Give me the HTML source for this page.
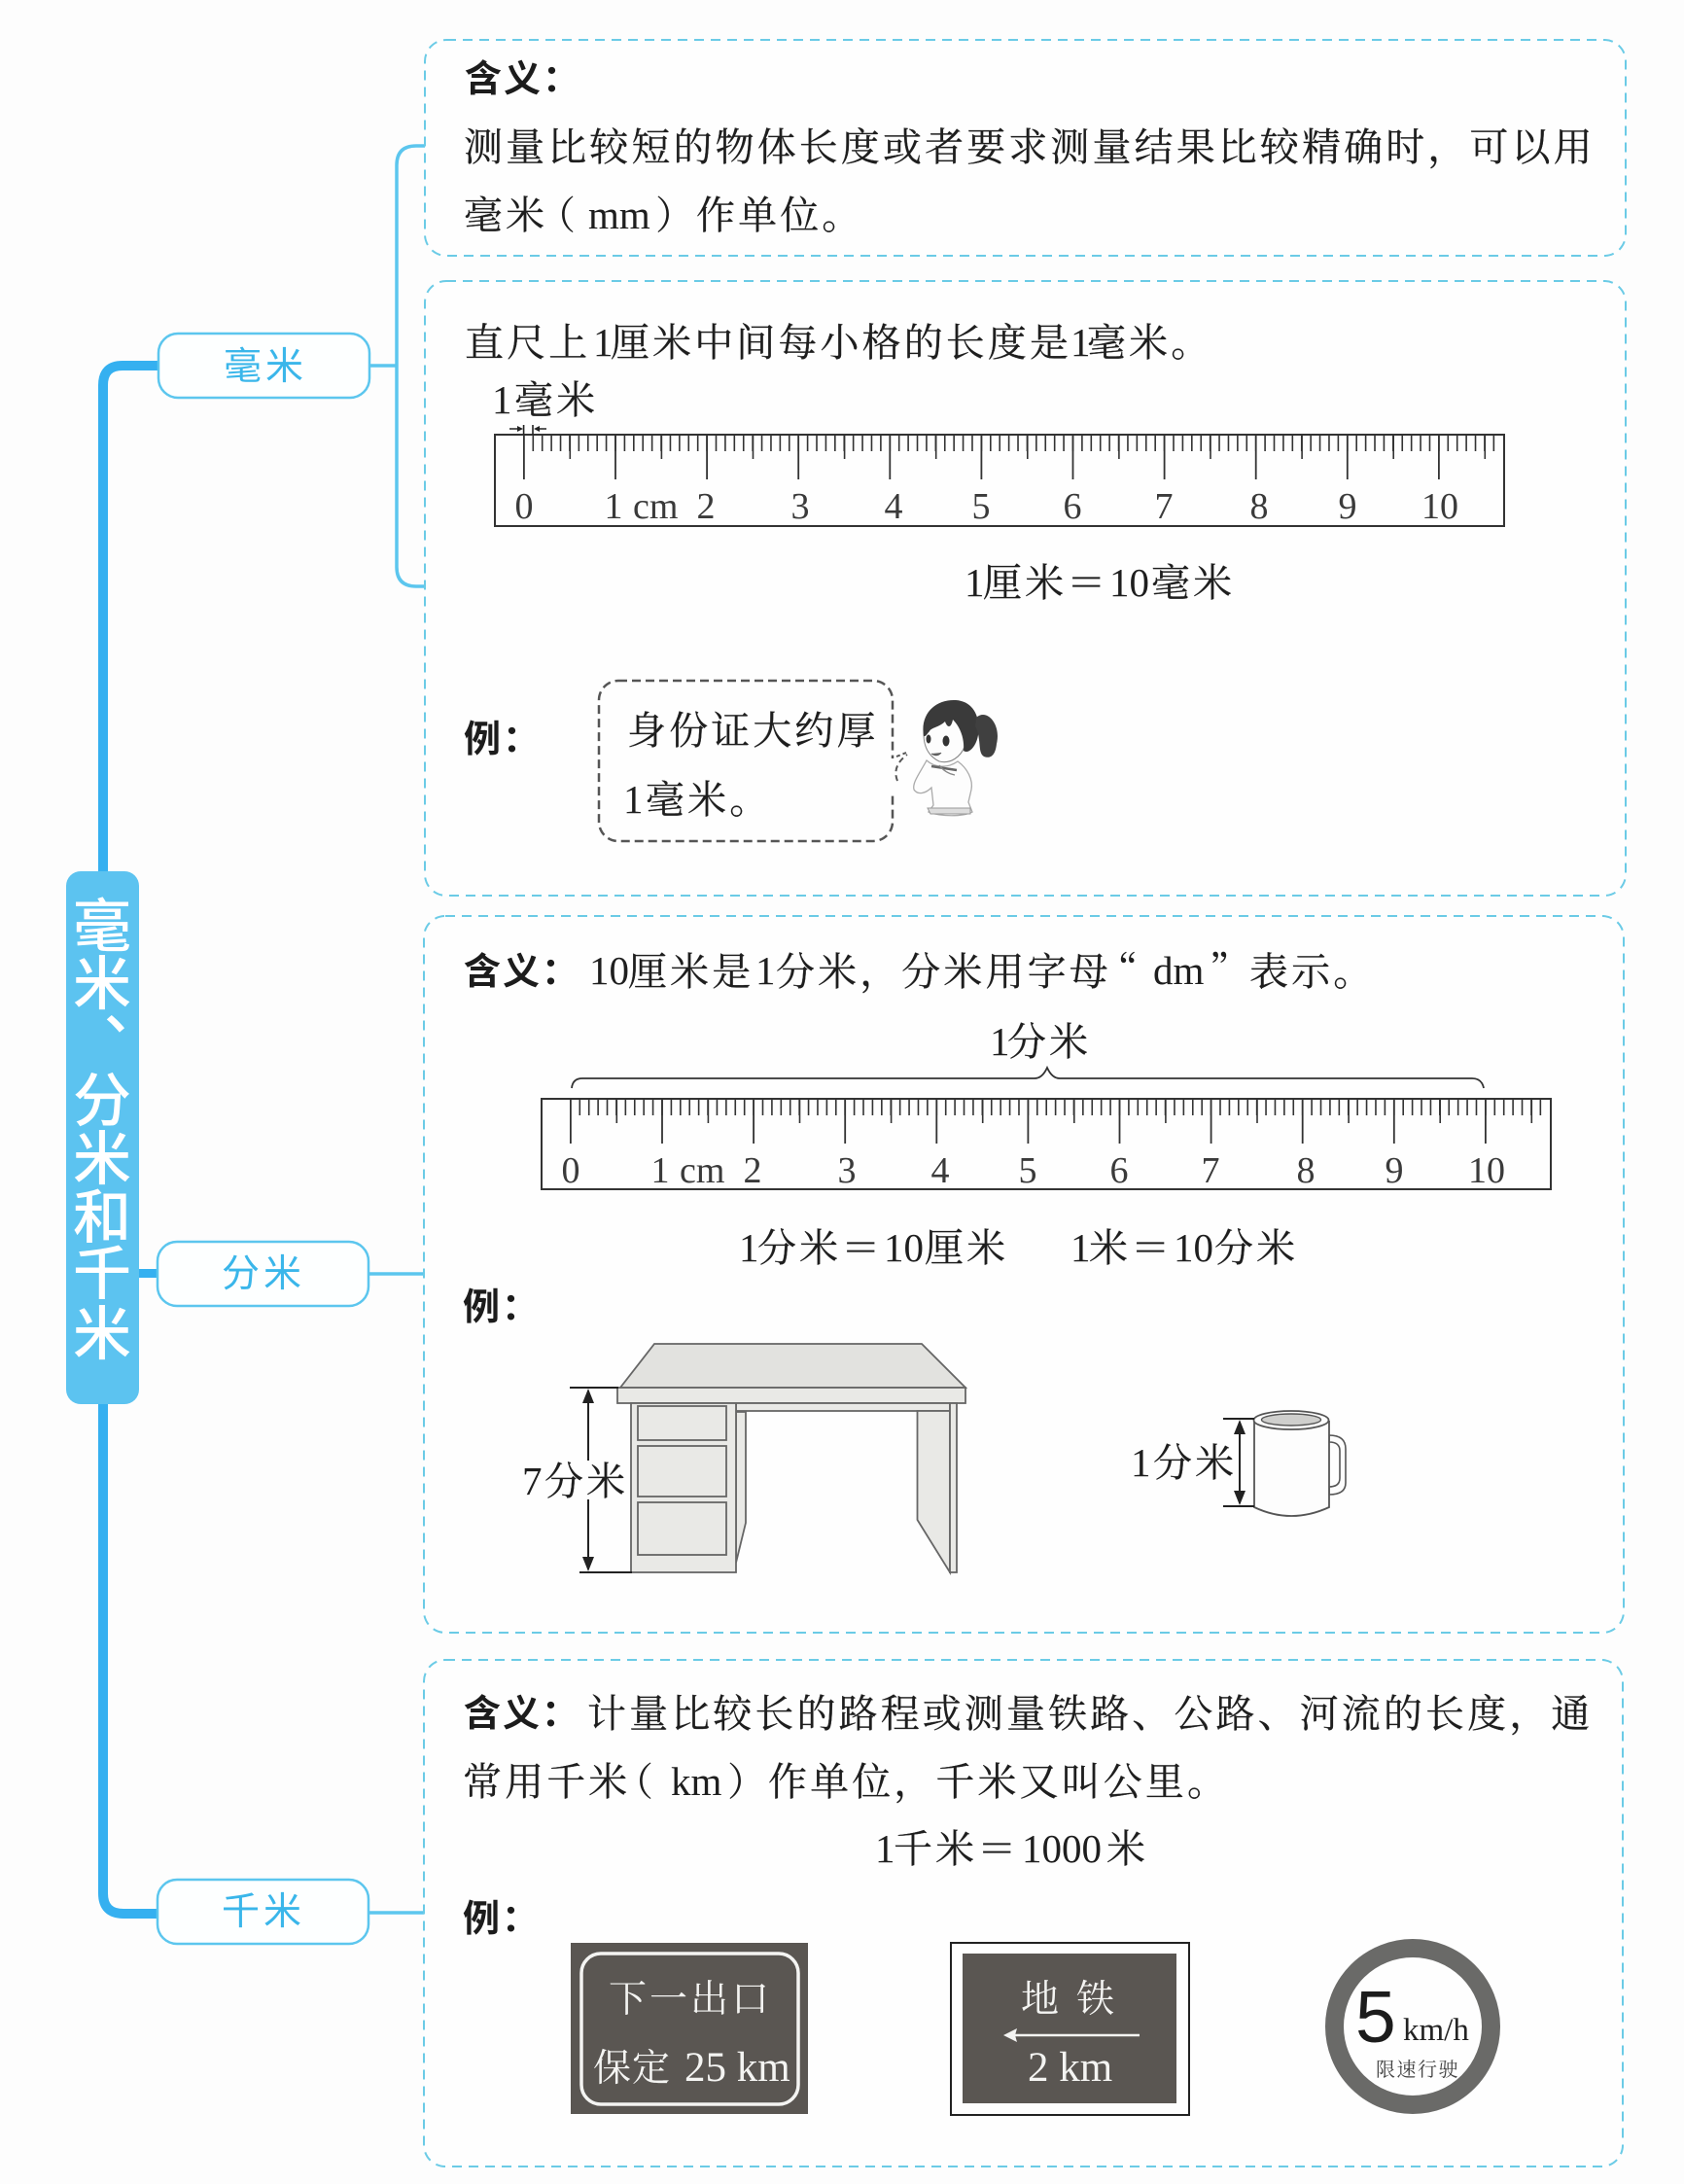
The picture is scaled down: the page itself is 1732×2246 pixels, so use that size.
<!DOCTYPE html>
<html lang="zh"><head><meta charset="utf-8"><title>毫米、分米和千米</title>
<style>
html,body{margin:0;padding:0;background:#fdfdfd}
svg{display:block}
text{white-space:pre}
.t{font-family:"Liberation Serif","Noto Serif CJK SC",serif;font-size:40px;letter-spacing:3.1px;fill:#1e1e1e;stroke:#1e1e1e;stroke-width:.25px}
.q{font-family:"Noto Serif CJK SC",serif;font-size:40px;fill:#1e1e1e}
.n{font-family:"Liberation Serif",serif;font-size:38px;fill:#3a3a3a;text-anchor:middle}
.l{font-family:"Liberation Serif",serif;font-size:41px;fill:#1e1e1e}
.b{font-family:"Noto Sans CJK SC","Liberation Sans",sans-serif;font-size:38px;font-weight:700;fill:#1c1c1c;letter-spacing:2px}
.m{font-family:"Noto Sans CJK SC","Liberation Sans",sans-serif;font-size:60px;font-weight:500;fill:#fff;text-anchor:middle}
.o{font-family:"Noto Sans CJK SC","Liberation Sans",sans-serif;font-size:39px;fill:#3ab6ea;letter-spacing:4px}
.w{font-family:"Liberation Serif","Noto Serif CJK SC",serif;font-size:39px;fill:#f4f4f2}
.wl{font-family:"Liberation Serif",serif;font-size:43px;fill:#f4f4f2}
.box{fill:#fefefe;stroke:#6bcbe6;stroke-width:2;stroke-dasharray:10 7}
.nd{fill:#fdffff;stroke:#5cc6ee;stroke-width:2.5}
.ln{fill:none;stroke:#5cc6ee;stroke-width:3.5}
.d{fill:#e9e9e6;stroke:#666;stroke-width:1.8}
.k{stroke:#222;stroke-width:2;fill:none}
</style></head>
<body>
<svg xmlns="http://www.w3.org/2000/svg" width="1732" height="2246" viewBox="0 0 1732 2246">
<rect width="1732" height="2246" fill="#fdfdfd"/>

<!-- spine -->
<path d="M106 900V396Q106 376 126 376H165" fill="none" stroke="#35b0f0" stroke-width="10"/>
<path d="M106 1440V1947Q106 1968 127 1968H165" fill="none" stroke="#35b0f0" stroke-width="10"/>
<rect x="140" y="1305" width="24" height="9" fill="#35b0f0"/>
<rect x="68" y="896" width="75" height="548" rx="15" fill="#5cc3f0"/>
<text class="m" x="105" y="974">毫</text>
<text class="m" x="105" y="1033">米</text>
<text class="m" x="137" y="1058">、</text>
<text class="m" x="105" y="1153">分</text>
<text class="m" x="105" y="1213">米</text>
<text class="m" x="105" y="1273">和</text>
<text class="m" x="105" y="1331">千</text>
<text class="m" x="105" y="1393">米</text>

<!-- connectors -->
<path class="ln" d="M437 150H428Q408 150 408 170V583Q408 603 428 603H437"/>
<path class="ln" d="M380 376H408M379 1310H436M380 1967H436"/>

<!-- nodes -->
<rect class="nd" x="163" y="343" width="217" height="66" rx="20"/>
<rect class="nd" x="162" y="1277" width="217" height="66" rx="20"/>
<rect class="nd" x="162" y="1933" width="217" height="66" rx="20"/>
<text class="o" x="230" y="390">毫米</text>
<text class="o" x="228" y="1323">分米</text>
<text class="o" x="228" y="1979">千米</text>

<!-- boxes -->
<rect class="box" x="437" y="41" width="1235" height="222" rx="22"/>
<rect class="box" x="437" y="289" width="1235" height="632" rx="22"/>
<rect class="box" x="436" y="942" width="1234" height="737" rx="22"/>
<rect class="box" x="436" y="1707" width="1233" height="521" rx="22"/>

<!-- box 1 -->
<text class="b" x="478" y="94">含义：</text>
<text class="t" x="477" y="165">测量比较短的物体长度或者要求测量结果比较精确时，可以用</text>
<text class="t" x="477" y="235">毫米</text>
<text class="q" x="552" y="235">（</text>
<text class="l" x="605" y="235">mm</text>
<text class="q" x="674" y="235">）</text>
<text class="t" x="716" y="235">作单位。</text>

<!-- box 2 -->
<text class="t" x="478" y="366">直尺上</text>
<text class="l" x="610" y="366">1</text>
<text class="t" x="628" y="366">厘米中间每小格的长度是</text>
<text class="l" x="1101" y="366">1</text>
<text class="t" x="1118" y="366">毫米。</text>
<text class="l" x="506" y="425">1</text>
<text class="t" x="529" y="425">毫米</text>

<!-- ruler 1 -->
<rect x="509" y="447" width="1038" height="94" fill="none" stroke="#333" stroke-width="2"/>
<line x1="547.5" y1="455.500" x2="1540" y2="455.500" stroke="#333" stroke-width="17" stroke-dasharray="1.600 7.810"/>
<line x1="585.5" y1="459.500" x2="1540" y2="459.500" stroke="#333" stroke-width="25" stroke-dasharray="1.600 92.500"/>
<line x1="538" y1="470" x2="1490" y2="470" stroke="#333" stroke-width="46" stroke-dasharray="1.800 92.300"/>
<path d="M538.600 437V447M548 437V447M524 441H536M562 441H551" stroke="#222" stroke-width="1.600" fill="none"/>
<path d="M538 441l-6-3v6zM549 441l6-3v6z" fill="#222"/>
<text class="n" x="539" y="533">0</text>
<text class="n" x="631" y="533">1</text>
<text class="n" x="651" y="533" style="text-anchor:start">cm</text>
<text class="n" x="726" y="533">2</text>
<text class="n" x="823" y="533">3</text>
<text class="n" x="919" y="533">4</text>
<text class="n" x="1009" y="533">5</text>
<text class="n" x="1103" y="533">6</text>
<text class="n" x="1197" y="533">7</text>
<text class="n" x="1295" y="533">8</text>
<text class="n" x="1386" y="533">9</text>
<text class="n" x="1481" y="533">10</text>

<text class="l" x="992" y="613">1</text>
<text class="t" x="1011" y="613">厘米＝</text>
<text class="l" x="1141" y="613">10</text>
<text class="t" x="1184" y="613">毫米</text>

<text class="b" x="477" y="773">例：</text>
<rect x="616" y="700" width="302" height="165" rx="20" fill="none" stroke="#555" stroke-width="2.500" stroke-dasharray="9 5"/>
<rect x="914" y="780" width="8" height="34" fill="#fefefe"/>
<path d="M923 803Q917 788 933 776" fill="none" stroke="#555" stroke-width="2" stroke-dasharray="6 4"/>
<path d="M922 778l10-4" stroke="#555" stroke-width="2" stroke-dasharray="4 3"/>
<text class="t" x="645" y="765">身份证大约厚</text>
<text class="l" x="641" y="836">1</text>
<text class="t" x="664" y="836">毫米。</text>

<!-- girl -->
<g>
<path d="M953 782C946 795 938 805 940 812C944 818 952 816 958 810L960 828L955 835C968 840 990 840 1000 835L996 825L999 812C1001 802 995 790 985 783C975 790 962 790 953 782Z" fill="#fdfdfd" stroke="#aaa" stroke-width="1.300"/>
<path d="M954 831L998 831V837L957 837Z" fill="#ddd" stroke="#999" stroke-width="1"/>
<path d="M951 745C948 762 952 776 966 783C978 786 988 778 992 768C994 752 985 738 970 733Z" fill="#fdfdfd" stroke="#888" stroke-width="1.100"/>
<path d="M950 757C946 733 963 719 983 720C1000 721 1009 736 1006 756C1004 768 996 776 991 772C992 760 988 748 980 740C978 750 974 748 972 742C966 748 958 748 956 752C954 754 952 758 950 757Z" fill="#3a3a3a"/>
<path d="M1004 738C1015 728 1030 745 1025 765C1024 775 1020 781 1012 778C1005 774 1010 760 1003 747Z" fill="#404040"/>
<ellipse cx="955" cy="760" rx="2.500" ry="4.500" fill="#333"/>
<ellipse cx="973" cy="762" rx="3.500" ry="5.500" fill="#333"/>
<path d="M958 775q6 4 10-1" fill="#666" stroke="#555"/>
<path d="M958 788l26 4" stroke="#666" stroke-width="2.500"/>
<path d="M966 787q6 8 16 10" fill="none" stroke="#888" stroke-width="1.400"/>
</g>

<!-- box 3 -->
<text class="b" x="477" y="1012">含义：</text>
<text class="l" x="606" y="1012">10</text>
<text class="t" x="646" y="1013">厘米是</text>
<text class="l" x="777" y="1012">1</text>
<text class="t" x="798" y="1013">分米，分米用字母</text>
<text class="q" x="1130" y="1013">“</text>
<text class="l" x="1186" y="1012">dm</text>
<text class="q" x="1244" y="1013">”</text>
<text class="t" x="1285" y="1013">表示。</text>

<text class="l" x="1018" y="1085">1</text>
<text class="t" x="1036" y="1085">分米</text>
<path d="M588 1119Q589 1109 599 1109H1064Q1072 1109 1077 1098Q1082 1109 1090 1109H1514Q1524 1109 1526 1119" fill="none" stroke="#333" stroke-width="1.800"/>

<!-- ruler 2 -->
<rect x="557" y="1130" width="1038" height="93" fill="none" stroke="#333" stroke-width="2"/>
<line x1="595.500" y1="1138.500" x2="1588" y2="1138.500" stroke="#333" stroke-width="17" stroke-dasharray="1.600 7.810"/>
<line x1="633.500" y1="1142.500" x2="1588" y2="1142.500" stroke="#333" stroke-width="25" stroke-dasharray="1.600 92.500"/>
<line x1="586" y1="1153" x2="1538" y2="1153" stroke="#333" stroke-width="46" stroke-dasharray="1.800 92.300"/>
<text class="n" x="587" y="1216">0</text>
<text class="n" x="679" y="1216">1</text>
<text class="n" x="699" y="1216" style="text-anchor:start">cm</text>
<text class="n" x="774" y="1216">2</text>
<text class="n" x="871" y="1216">3</text>
<text class="n" x="967" y="1216">4</text>
<text class="n" x="1057" y="1216">5</text>
<text class="n" x="1151" y="1216">6</text>
<text class="n" x="1245" y="1216">7</text>
<text class="n" x="1343" y="1216">8</text>
<text class="n" x="1434" y="1216">9</text>
<text class="n" x="1529" y="1216">10</text>

<text class="l" x="760" y="1297">1</text>
<text class="t" x="779" y="1297">分米＝</text>
<text class="l" x="909" y="1297">10</text>
<text class="t" x="951" y="1297">厘米</text>
<text class="l" x="1101" y="1297">1</text>
<text class="t" x="1120" y="1297">米＝</text>
<text class="l" x="1207" y="1297">10</text>
<text class="t" x="1249" y="1297">分米</text>
<text class="b" x="476" y="1357">例：</text>

<!-- desk -->
<path class="d" d="M673 1382H948L993 1427H638Z" style="fill:#e2e2df"/>
<rect class="d" x="635" y="1427" width="358" height="16"/>
<rect class="d" x="757" y="1443" width="220" height="8"/>
<path class="d" d="M757 1452H767V1566L757 1607Z"/>
<rect class="d" x="649" y="1443" width="108" height="174"/>
<rect class="d" x="656" y="1446" width="91" height="35"/>
<rect class="d" x="656" y="1487" width="91" height="52"/>
<rect class="d" x="656" y="1545" width="91" height="54"/>
<path class="d" d="M943.500 1451H977V1617L943.500 1563Z"/>
<rect class="d" x="977" y="1443" width="7" height="174"/>
<path class="k" d="M586 1427H636M596 1617H650M605 1430V1502M605 1542V1614"/>
<path d="M605 1428l-6 15h12zM605 1616l-6-15h12z" fill="#222"/>
<text class="l" x="537" y="1537">7</text>
<text class="t" x="560" y="1537">分米</text>

<!-- mug -->
<path d="M1367 1476Q1384 1476 1384 1490V1525Q1384 1537 1367 1537V1529Q1378 1529 1378 1520V1492Q1378 1483 1367 1483Z" fill="#fdfdfd" stroke="#555" stroke-width="1.600"/>
<path d="M1290 1461V1550Q1328 1568 1367 1550V1461" fill="#fdfdfd" stroke="#555" stroke-width="1.800"/>
<ellipse cx="1328" cy="1460.500" rx="38.500" ry="9.500" fill="#fdfdfd" stroke="#555" stroke-width="1.800"/>
<ellipse cx="1328" cy="1460" rx="30.500" ry="6" fill="#cfcfcd" stroke="#555" stroke-width="1.400"/>
<path class="k" d="M1258 1459H1290M1258 1549H1290M1275 1462V1546"/>
<path d="M1275 1460l-6 15h12zM1275 1548l-6-15h12z" fill="#222"/>
<text class="l" x="1163" y="1518">1</text>
<text class="t" x="1186" y="1518">分米</text>

<!-- box 4 -->
<text class="b" x="477" y="1775">含义：</text>
<text class="t" x="604" y="1776">计量比较长的路程或测量铁路、公路、河流的长度，通</text>
<text class="t" x="476" y="1846">常用千米</text>
<text class="q" x="632" y="1846">（</text>
<text class="l" x="690" y="1846">km</text>
<text class="q" x="748" y="1846">）</text>
<text class="t" x="790" y="1846">作单位，千米又叫公里。</text>
<text class="l" x="900" y="1915">1</text>
<text class="t" x="919" y="1915">千米＝</text>
<text class="l" x="1051" y="1915">1000</text>
<text class="t" x="1138" y="1915">米</text>
<text class="b" x="476" y="1986">例：</text>

<!-- sign 1 -->
<rect x="587" y="1998" width="244" height="176" fill="#5a5652"/>
<rect x="598" y="2009" width="223" height="155" rx="20" fill="none" stroke="#f4f4f2" stroke-width="3.500"/>
<text class="w" x="626" y="2069" style="letter-spacing:3px">下一出口</text>
<text class="w" x="610" y="2140" style="letter-spacing:1px">保定</text>
<text class="wl" x="704" y="2140">25 km</text>

<!-- sign 2 -->
<rect x="978" y="1998" width="245" height="177" fill="#fefefe" stroke="#222" stroke-width="2"/>
<rect x="990" y="2009" width="220" height="154" fill="#5a5652"/>
<text class="w" x="1050" y="2069" style="letter-spacing:18px">地铁</text>
<path d="M1040 2093H1172" stroke="#f4f4f2" stroke-width="2.500"/>
<path d="M1032 2093l14-7-2 7 2 7z" fill="#f4f4f2"/>
<text class="wl" x="1057" y="2140">2 km</text>

<!-- sign 3 -->
<circle cx="1453" cy="2084" r="80.500" fill="#fefefe" stroke="#6a6a68" stroke-width="19"/>
<text x="1394" y="2100" style="font-family:'Liberation Sans',sans-serif;font-size:75px;fill:#1c1c1c">5</text>
<text x="1443" y="2098" style="font-family:'Liberation Serif',serif;font-size:33px;fill:#222">km/h</text>
<text x="1415" y="2135" style="font-family:'Noto Serif CJK SC',serif;font-size:20px;letter-spacing:1.500px;fill:#444">限速行驶</text>
</svg>
</body></html>
